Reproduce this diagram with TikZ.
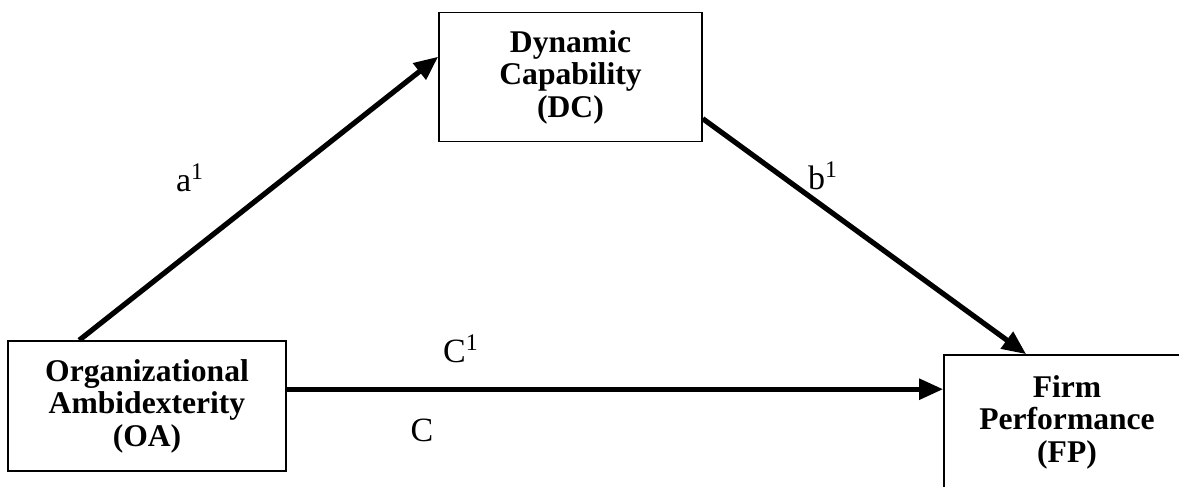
\documentclass[tikz,border=0pt]{standalone}
\usepackage{fontspec}
\setmainfont{Liberation Serif}
\usetikzlibrary{arrows.meta,calc}
\begin{document}
\begin{tikzpicture}[x=0.5pt,y=-0.5pt,
  box/.style={draw,line width=0.8pt,align=center,inner sep=0pt,
    font=\bfseries\fontsize{15.8}{16.2}\selectfont},
  conn/.style={line width=2.6pt,-{Triangle[length=12pt,width=10pt]}},
  lab/.style={font=\fontsize{17}{19}\selectfont,inner sep=0pt}]
\useasboundingbox (0,0) rectangle (1179,487);
\begin{scope}
\clip (0,0) rectangle (1179,487);
\node[box,minimum width=131.5pt,minimum height=64.5pt] (DC) at (570.5,77) {Dynamic\\Capability\\(DC)};
\node[box,minimum width=139pt,minimum height=65pt] (OA) at (147,406) {Organizational\\Ambidexterity\\(OA)};
\node[box,minimum width=123pt,minimum height=67pt] (FP) at (1067,422) {Firm\\Performance\\(FP)};
\end{scope}
\coordinate (aS) at ([xshift=36pt]OA.north west);
\coordinate (aE) at ([yshift=-22.5pt]DC.north west);
\coordinate (bS) at ([yshift=-53.5pt]DC.north east);
\coordinate (bE) at ([xshift=41.5pt]FP.north west);
\coordinate (cS) at ([yshift=-24.5pt]OA.north east);
\coordinate (cE) at (FP.west |- cS);
\draw[conn] (aS) -- (aE);
\draw[conn] (bS) -- (bE);
\draw[conn] (cS) -- (cE);
\node[lab] (la) at (190,178) {a\textsuperscript{1}};
\node[lab] (lb) at (823,176) {b\textsuperscript{1}};
\node[lab] (lc1) at (461,349) {C\textsuperscript{1}};
\node[lab] (lc) at (422,430) {C};
\end{tikzpicture}
\end{document}
